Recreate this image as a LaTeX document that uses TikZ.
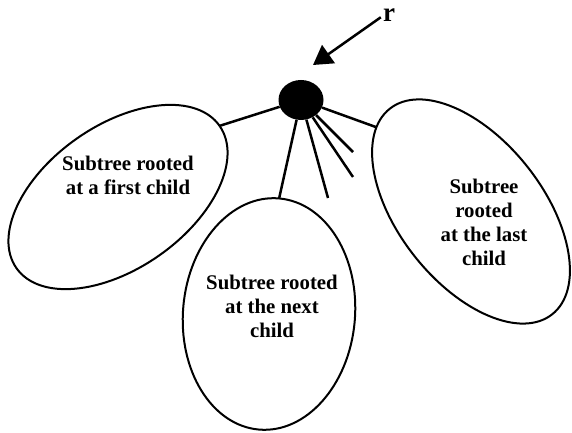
\documentclass[tikz,border=0pt]{standalone}
\usepackage{fontspec}
\setmainfont{Liberation Serif}
\usetikzlibrary{shapes.geometric,arrows.meta}

\begin{document}
\begin{tikzpicture}[x=1pt, y=1pt,
  subtree/.style={draw, ellipse, line width=2pt, inner sep=0pt, outer sep=0pt},
  treetext/.style={align=center, font=\fontsize{20.8}{24}\selectfont\bfseries},
  branch/.style={line width=2.5pt}]
\useasboundingbox (0,0) rectangle (572,433);
% the root and its pointer
\node[fill, ellipse, minimum width=45, minimum height=40, inner sep=0pt] (root) at (301,333) {};
\node[font=\fontsize{27}{30}\selectfont\bfseries, inner sep=0pt] (r) at (389,418) {r};
\coordinate (rtip) at (313,368);
\draw[branch, -{Triangle[length=19pt,width=22pt]}] ([xshift=-2pt]r.200) -- (rtip);
% the subtrees
\node[subtree, minimum width=248, minimum height=143, rotate=35] (first) at (118,236) {};
\node[subtree, minimum width=172, minimum height=232, rotate=-5] (next) at (269,119) {};
\node[subtree, minimum width=262, minimum height=144, rotate=-51.7] (last) at (471,221.5) {};
\node[treetext] (firsttxt) at (128,258) {Subtree rooted\\at a first child};
\node[treetext] (nexttxt) at (272,127) {Subtree rooted\\at the next\\child};
\node[treetext] (lasttxt) at (484,211) {Subtree\\rooted\\at the last\\child};
% branches
\coordinate (f1) at (328,235);
\coordinate (f2) at (353,256);
\coordinate (f3) at (353,281);
\draw[branch] (root) -- (first.east);
\draw[branch] (root) -- (next.north);
\draw[branch] (root) -- (f1);
\draw[branch] (root) -- (f2);
\draw[branch] (root) -- (f3);
\draw[branch] (root) -- (last.190);
\end{tikzpicture}
\end{document}
